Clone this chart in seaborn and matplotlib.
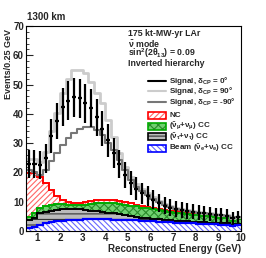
import numpy as np
import pandas as pd
import matplotlib
matplotlib.use("Agg")
import matplotlib.pyplot as plt
import seaborn as sns
from matplotlib.patches import Rectangle
from matplotlib.ticker import MultipleLocator

sns.set_theme(style="ticks")
plt.rcParams['font.family'] = ['Liberation Sans', 'DejaVu Sans']
plt.rcParams['font.weight'] = 'bold'
plt.rcParams['mathtext.fontset'] = 'custom'
plt.rcParams['mathtext.rm'] = 'Liberation Sans:bold'
plt.rcParams['mathtext.it'] = 'Liberation Sans:bold'
plt.rcParams['mathtext.bf'] = 'Liberation Sans:bold'
plt.rcParams['hatch.linewidth'] = 0.8

# bin edges 0.5 .. 10 GeV, 0.25 GeV bins
edges = np.arange(0.5, 10.001, 0.25)
centers = 0.5 * (edges[:-1] + edges[1:])

# cumulative stacked tops (events / 0.25 GeV)
beam_top = [0.9, 1.5, 2.2, 2.7, 3.0, 3.3, 3.5, 3.7, 3.8, 3.9, 4.0, 4.0, 4.0, 4.0, 4.0, 3.9,
            3.9, 3.8, 3.7, 3.6, 3.5, 3.4, 3.3, 3.2, 3.1, 3.0, 2.9, 2.8, 2.7, 2.6, 2.5, 2.4,
            2.3, 2.3, 2.2, 2.1, 1.8, 2.0]
tau_top = [3.8, 4.5, 6.0, 6.5, 6.9, 7.2, 7.4, 7.5, 7.5, 7.4, 7.2, 7.0, 6.8, 6.5, 6.3, 6.0,
           5.7, 5.4, 5.1, 4.8, 4.6, 4.4, 4.2, 4.0, 3.8, 3.7, 3.5, 3.4, 3.3, 3.2, 3.1, 3.0,
           2.9, 2.8, 2.7, 2.6, 2.2, 2.4]
numu_top = [4.8, 6.0, 7.8, 8.6, 9.0, 9.2, 9.1, 8.9, 8.8, 8.9, 9.0, 9.3, 9.5, 9.7, 9.7, 9.6,
            9.3, 9.0, 8.7, 8.4, 8.0, 7.7, 7.4, 7.1, 6.8, 6.5, 6.2, 6.0, 5.8, 5.6, 5.4, 5.2,
            5.0, 4.8, 4.6, 4.4, 3.5, 4.0]
nc_top = [19.9, 19.9, 18.3, 16.3, 14.0, 12.0, 10.6, 10.0, 9.5, 9.6, 9.9, 10.2, 10.5, 10.7,
          10.7, 10.6, 10.2, 9.8, 9.4, 9.0, 8.6, 8.2, 7.9, 7.6, 7.3, 7.0, 6.7, 6.5, 6.2, 6.0,
          5.8, 5.6, 5.4, 5.2, 5.0, 4.7, 3.8, 4.2]

# signal + background totals
sig_0 = [23.0, 23.0, 22.5, 24.8, 32.4, 37.6, 42.2, 44.5, 45.6, 45.3, 43.6, 41.9, 38.8, 35.0,
         31.0, 26.5, 22.9, 19.1, 16.3, 14.5, 12.9, 12.0, 10.6, 9.5, 8.6, 8.0, 7.5, 7.1, 6.8,
         6.5, 6.3, 6.0, 5.8, 5.6, 5.4, 5.2, 4.5, 4.8]
sig_90 = [24.5, 24.5, 23.5, 27.0, 34.0, 40.2, 47.0, 52.0, 55.0, 55.0, 53.8, 51.0, 47.0, 43.6,
          38.0, 32.0, 26.5, 22.0, 18.5, 16.0, 14.3, 13.0, 11.5, 10.2, 9.3, 8.5, 8.0, 7.5, 7.1,
          6.8, 6.5, 6.2, 6.0, 5.8, 5.5, 5.3, 4.6, 4.9]
sig_m90 = [21.0, 20.0, 19.0, 21.0, 24.0, 26.5, 29.4, 31.6, 33.3, 35.0, 35.6, 35.5, 34.5, 32.8,
           29.9, 27.6, 24.2, 20.8, 17.4, 15.1, 13.5, 12.2, 11.0, 10.0, 9.0, 8.3, 7.6, 7.2,
           6.8, 6.5, 6.2, 6.0, 5.7, 5.5, 5.3, 5.1, 4.4, 4.7]

sig_df = pd.DataFrame({'E': centers, 'sig_90': sig_90, 'sig_m90': sig_m90})

W, H = 266, 258
fig = plt.figure(figsize=(W / 100, H / 100), dpi=100)
ax = fig.add_axes([26 / W, 1 - 231 / H, 215 / W, 205 / H])

red, green, blue = '#ff0000', '#00aa00', '#0000ff'
green_fc, green_hc = '#70d070', '#2a8a2a'

# stacked backgrounds (drawn top-down so lower layers cover)
ax.stairs(nc_top, edges, fill=True, facecolor='white', edgecolor='#ff6666', hatch='//////', linewidth=0)
ax.stairs(numu_top, edges, fill=True, facecolor=green_fc, edgecolor=green_hc, hatch='xxxx', linewidth=0)
ax.stairs(tau_top, edges, fill=True, facecolor='#bbbbbb', edgecolor='#333333', hatch='---', linewidth=0)
ax.stairs(beam_top, edges, fill=True, facecolor='white', edgecolor='#6666ff', hatch='\\\\\\\\\\\\', linewidth=0)
ax.stairs(nc_top, edges, baseline=None, color=red, linewidth=1.4)
ax.stairs(numu_top, edges, baseline=None, color=green, linewidth=1.4)
ax.stairs(tau_top, edges, baseline=None, color='black', linewidth=1.4)
ax.stairs(beam_top, edges, baseline=None, color=blue, linewidth=1.6)

# signal step lines via seaborn
sns.histplot(data=sig_df, x='E', weights='sig_90', binwidth=0.25, binrange=(0.5, 10),
             element='step', fill=False, color='#cccccc', linewidth=2.0, ax=ax)
sns.histplot(data=sig_df, x='E', weights='sig_m90', binwidth=0.25, binrange=(0.5, 10),
             element='step', fill=False, color='#777777', linewidth=1.5, ax=ax)

# delta_CP = 0 as points with statistical errors
s0 = np.array(sig_0)
ax.errorbar(centers, s0, yerr=np.sqrt(s0), xerr=0.09, fmt='none', ecolor='black',
            elinewidth=1.6, capsize=0)

ax.set_xlim(0.5, 10)
ax.set_ylim(0, 70)
ax.xaxis.set_major_locator(MultipleLocator(1))
ax.xaxis.set_minor_locator(MultipleLocator(0.2))
ax.yaxis.set_major_locator(MultipleLocator(10))
ax.yaxis.set_minor_locator(MultipleLocator(2))
ax.tick_params(which='both', direction='in', top=False, right=False, labelsize=7, pad=1.5)
ax.tick_params(which='major', length=5, width=0.8)
ax.tick_params(which='minor', length=2.5, width=0.6)
for sp in ax.spines.values():
    sp.set_linewidth(0.8)
    sp.set_color('black')
for lab in ax.get_xticklabels() + ax.get_yticklabels():
    lab.set_fontweight('bold')

ax.set_xlabel('Reconstructed Energy (GeV)', fontsize=7, fontweight='bold', loc='right', labelpad=1)
ax.set_ylabel('Events/0.25 GeV', fontsize=6.5, fontweight='bold', loc='top')
ax.yaxis.set_label_coords((13 - 26) / 215, 0.985)

fig.text(27 / W, 1 - 17 / H, '1300 km', fontsize=7, fontweight='bold', va='center', ha='left')

# info text
info = ['175 kt-MW-yr LAr', r'$\bar{\nu}$ mode', r'sin$^2$(2$\theta_{13}$) = 0.09', 'Inverted hierarchy']
iy = [33.3, 43.3, 53.3, 63.3]
for t, y in zip(info, iy):
    ax.text((128 - 26) / 215, (231 - y) / 205, t, transform=ax.transAxes, fontsize=6.3,
            fontweight='bold', va='center', ha='left')

# legend (manual)
def ay(y):
    return (231 - y) / 205

x0, x1, xt = (148 - 26) / 215, (166 - 26) / 215, (169 - 26) / 215
line_entries = [(r'Signal, $\delta_{CP}$ = 0$\degree$', 'black', 1.5, 81),
                (r'Signal, $\delta_{CP}$ = 90$\degree$', '#cccccc', 1.5, 91),
                (r'Signal, $\delta_{CP}$ = -90$\degree$', '#777777', 1.5, 101.5)]
for lab, c, lw, y in line_entries:
    ax.plot([x0, x1], [ay(y), ay(y)], color=c, lw=lw, transform=ax.transAxes, clip_on=False)
    ax.text(xt, ay(y), lab, transform=ax.transAxes, fontsize=5.8, va='center', ha='left', fontweight='bold')

patch_entries = [('NC', 'white', '#ff6666', '//////', red, 115.5),
                 (r'($\bar{\nu}_\mu$+$\nu_\mu$) CC', green_fc, green_hc, 'xxxx', green, 126),
                 (r'($\bar{\nu}_\tau$+$\nu_\tau$) CC', '#bbbbbb', '#333333', '---', 'black', 136.8),
                 (r'Beam ($\bar{\nu}_e$+$\nu_e$) CC', 'white', '#6666ff', '\\\\\\\\\\\\', blue, 148)]
ph = 7 / 205
for lab, fc, hc, hatch, ec, y in patch_entries:
    ax.add_patch(Rectangle((x0, ay(y) - ph / 2), x1 - x0, ph, transform=ax.transAxes,
                           facecolor=fc, edgecolor=hc, hatch=hatch, linewidth=0, clip_on=False))
    ax.add_patch(Rectangle((x0, ay(y) - ph / 2), x1 - x0, ph, transform=ax.transAxes,
                           facecolor='none', edgecolor=ec, linewidth=1.2, clip_on=False))
    ax.text(xt, ay(y), lab, transform=ax.transAxes, fontsize=5.8, va='center', ha='left', fontweight='bold')

fig.savefig('out.png', dpi=100)
